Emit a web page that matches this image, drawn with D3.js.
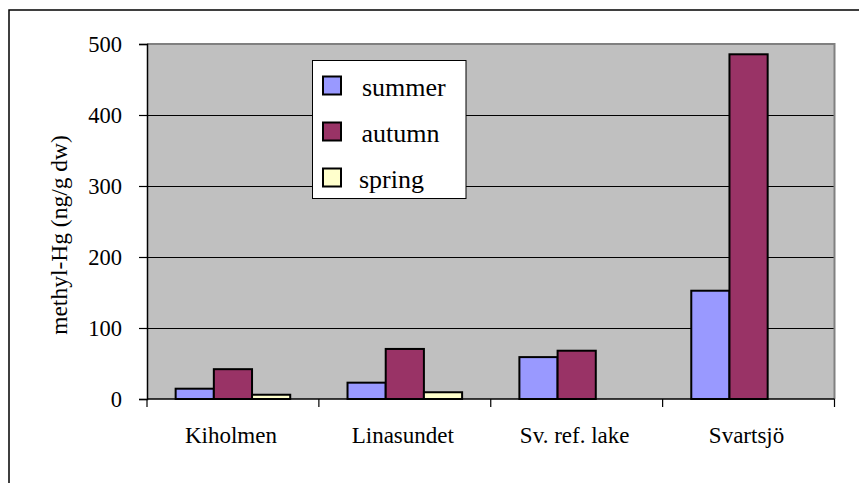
<!DOCTYPE html>
<html>
<head>
<meta charset="utf-8">
<script src="https://cdn.jsdelivr.net/npm/d3@7"></script>
<style>
  html, body { margin: 0; padding: 0; background: #ffffff; }
  svg { display: block; }
</style>
</head>
<body>
<svg id="chart" width="859" height="483"></svg>
<script>
const categories = ["Kiholmen", "Linasundet", "Sv. ref. lake", "Svartsjö"];
const seriesNames = ["summer", "autumn", "spring"];
const summerValues = [14.5, 23, 59, 152.5];
const autumnValues = [42, 70.5, 68, 485.5];
const springValues = [6, 9.5, null, null];
const yTicks = [0, 100, 200, 300, 400, 500];
const yTitle = "methyl-Hg (ng/g dw)";

const seriesValues = [summerValues, autumnValues, springValues];
const colors = { summer: "#9999FF", autumn: "#993366", spring: "#FFFFCC" };
const FONT = "'Liberation Serif', 'Times New Roman', Times, serif";

const svg = d3.select("#chart");
const plot = { left: 147, right: 834.5, top: 44, bottom: 399 };

const x = d3.scaleBand().domain(categories).range([plot.left, plot.right]).paddingInner(0).paddingOuter(0);
const xs = d3.scaleBand().domain(seriesNames).range([0, x.bandwidth()]).paddingInner(0).paddingOuter(0.75);
const y = d3.scaleLinear().domain([0, 500]).range([plot.bottom, plot.top]);

// outer chart frame
svg.append("rect").attr("x", 9).attr("y", 10).attr("width", 870).attr("height", 500)
  .attr("fill", "none").attr("stroke", "#000").attr("stroke-width", 1.5);

// plot background
svg.append("rect").attr("x", plot.left).attr("y", plot.top)
  .attr("width", plot.right - plot.left).attr("height", plot.bottom - plot.top)
  .attr("fill", "#C0C0C0");

// gridlines
svg.append("g").selectAll("line").data(yTicks.filter(d => d > 0)).join("line")
  .attr("x1", plot.left).attr("x2", plot.right)
  .attr("y1", d => Math.round(y(d)) + 0.5).attr("y2", d => Math.round(y(d)) + 0.5)
  .attr("stroke", "#000").attr("stroke-width", 1);

// plot border top/right (grey)
svg.append("path")
  .attr("d", `M${plot.left},${plot.top} H${plot.right} V${plot.bottom}`)
  .attr("fill", "none").attr("stroke", "#808080").attr("stroke-width", 2);

// bars
const data = [];
categories.forEach((c, i) => {
  seriesNames.forEach((s, j) => {
    const v = seriesValues[j][i];
    if (v != null) data.push({ c, s, v });
  });
});
svg.append("g").selectAll("rect").data(data).join("rect")
  .attr("x", d => x(d.c) + xs(d.s))
  .attr("y", d => y(d.v))
  .attr("width", xs.bandwidth())
  .attr("height", d => y(0) - y(d.v))
  .attr("fill", d => colors[d.s])
  .attr("stroke", "#000").attr("stroke-width", 2);

// y axis
const yAxis = d3.axisLeft(y).tickValues(yTicks).tickSize(8).tickPadding(17).tickFormat(d3.format("d"));
const gy = svg.append("g").attr("transform", `translate(${plot.left},0)`).call(yAxis);
gy.attr("font-family", null).attr("font-size", null);
gy.select(".domain").attr("stroke", "#000").attr("stroke-width", 1.5);
gy.selectAll(".tick line").attr("stroke", "#000").attr("stroke-width", 1.2);
gy.selectAll(".tick text").style("font-family", FONT).style("font-size", "22.5px").attr("fill", "#000");

// x axis
const xTickPos = categories.map(c => x(c)).concat([plot.right]);
const gx = svg.append("g").attr("class", "xaxis");
gx.append("line").attr("x1", plot.left).attr("x2", plot.right)
  .attr("y1", plot.bottom).attr("y2", plot.bottom)
  .attr("stroke", "#000").attr("stroke-width", 1.5);
gx.selectAll("line.tk").data(xTickPos).join("line").attr("class", "tk")
  .attr("x1", d => d).attr("x2", d => d)
  .attr("y1", plot.bottom).attr("y2", plot.bottom + 8)
  .attr("stroke", "#000").attr("stroke-width", 1.2);
gx.selectAll("text").data(categories).join("text")
  .attr("x", d => x(d) + x.bandwidth() / 2 - 2)
  .attr("y", 443)
  .attr("text-anchor", "middle")
  .style("font-family", FONT).style("font-size", "23px")
  .text(d => d);

// y title
svg.append("text")
  .attr("transform", `translate(67,235) rotate(-90)`)
  .attr("text-anchor", "middle")
  .style("font-family", FONT).style("font-size", "23.5px")
  .text(yTitle);

// legend
const legend = svg.append("g");
legend.append("rect").attr("x", 312.5).attr("y", 60.5).attr("width", 153.5).attr("height", 138)
  .attr("fill", "#fff").attr("stroke", "#000").attr("stroke-width", 1);
const textX = [362, 361.5, 359];
const items = legend.selectAll("g.item").data(seriesNames).join("g").attr("class", "item");
items.append("rect")
  .attr("x", 323).attr("y", (d, i) => 76.5 + i * 46)
  .attr("width", 18).attr("height", 18)
  .attr("fill", d => colors[d]).attr("stroke", "#000").attr("stroke-width", 2);
items.append("text")
  .attr("x", (d, i) => textX[i]).attr("y", (d, i) => 96 + i * 46.2)
  .style("font-family", FONT).style("font-size", "26px")
  .text(d => d);
</script>
</body>
</html>
